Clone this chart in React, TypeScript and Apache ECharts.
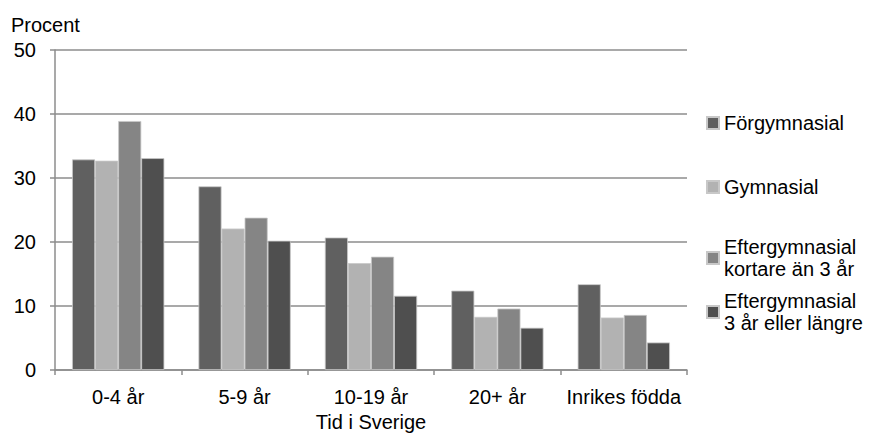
import React, { useEffect, useRef } from "react";
import * as echarts from "echarts";

const categories = ["0-4 år", "5-9 år", "10-19 år", "20+ år", "Inrikes födda"];
const seriesNames = [
  "Förgymnasial",
  "Gymnasial",
  "Eftergymnasial kortare än 3 år",
  "Eftergymnasial 3 år eller längre",
];
const legendLabels = [
  "Förgymnasial",
  "Gymnasial",
  "Eftergymnasial\nkortare än 3 år",
  "Eftergymnasial\n3 år eller längre",
];
const forgymnasial = [32.9, 28.7, 20.7, 12.4, 13.4];
const gymnasial = [32.7, 22.1, 16.7, 8.3, 8.2];
const eftergymKort = [38.9, 23.8, 17.7, 9.6, 8.6];
const eftergymLang = [33.1, 20.2, 11.6, 6.6, 4.3];
const yTicks = [0, 10, 20, 30, 40, 50];
const colors = ["#606060", "#b2b2b2", "#858585", "#4f4f4f"];

const FONT = "'Liberation Sans', Arial, sans-serif";

export default function App() {
  const ref = useRef<HTMLDivElement>(null);
  useEffect(() => {
    const chart = echarts.init(ref.current!, undefined, { renderer: "svg" });
    const values = [forgymnasial, gymnasial, eftergymKort, eftergymLang];
    const legendTops = [112, 176, 225, 279];
    const twoLine = [false, false, true, true];
    chart.setOption({
      animation: false,
      textStyle: { fontFamily: FONT },
      title: {
        text: "Procent",
        left: 6,
        top: 10,
        textStyle: { fontFamily: FONT, fontSize: 20, fontWeight: "normal", color: "#000" },
      },
      legend: seriesNames.map((n, i) => ({
        data: [n],
        orient: "vertical",
        left: 706,
        top: legendTops[i],
        itemWidth: 12,
        itemHeight: 12,
        itemGap: 0,
        padding: 0,
        selectedMode: false,
        icon: "rect",
        formatter: () => legendLabels[i],
        textStyle: {
          fontFamily: FONT,
          fontSize: 20,
          color: "#000",
          lineHeight: 22,
          padding: twoLine[i] ? [22, 0, 0, 0] : 0,
        },
      })),
      grid: { left: 55, right: 183, top: 50, bottom: 63, containLabel: false },
      xAxis: {
        type: "category",
        data: categories,
        name: "Tid i Sverige",
        nameLocation: "middle",
        nameGap: 42,
        nameTextStyle: { fontFamily: FONT, fontSize: 20, color: "#000" },
        axisLine: { lineStyle: { color: "#8c8c8c", width: 1.5 } },
        axisTick: { show: true, length: 5, lineStyle: { color: "#8c8c8c", width: 1.5 } },
        axisLabel: { interval: 0, fontFamily: FONT, fontSize: 20, color: "#000", margin: 17 },
      },
      yAxis: {
        type: "value",
        min: yTicks[0],
        max: yTicks[yTicks.length - 1],
        interval: 10,
        axisLine: { show: true, lineStyle: { color: "#8c8c8c", width: 1.5 } },
        axisTick: { show: true, length: 5, lineStyle: { color: "#8c8c8c", width: 1.5 } },
        axisLabel: { fontFamily: FONT, fontSize: 20, color: "#000", margin: 19 },
        splitLine: { lineStyle: { color: "#8c8c8c", width: 1.5 } },
      },
      series: seriesNames.map((n, i) => ({
        name: n,
        type: "bar",
        data: values[i],
        barGap: "0%",
        barCategoryGap: "27%",
        itemStyle: { color: colors[i], borderColor: "#c8c8c8", borderWidth: 0.8 },
      })),
    });
    return () => chart.dispose();
  }, []);
  return (
    <div
      ref={ref}
      style={{ position: "fixed", left: 0, top: 0, width: 870, height: 437, background: "#fff" }}
    />
  );
}
